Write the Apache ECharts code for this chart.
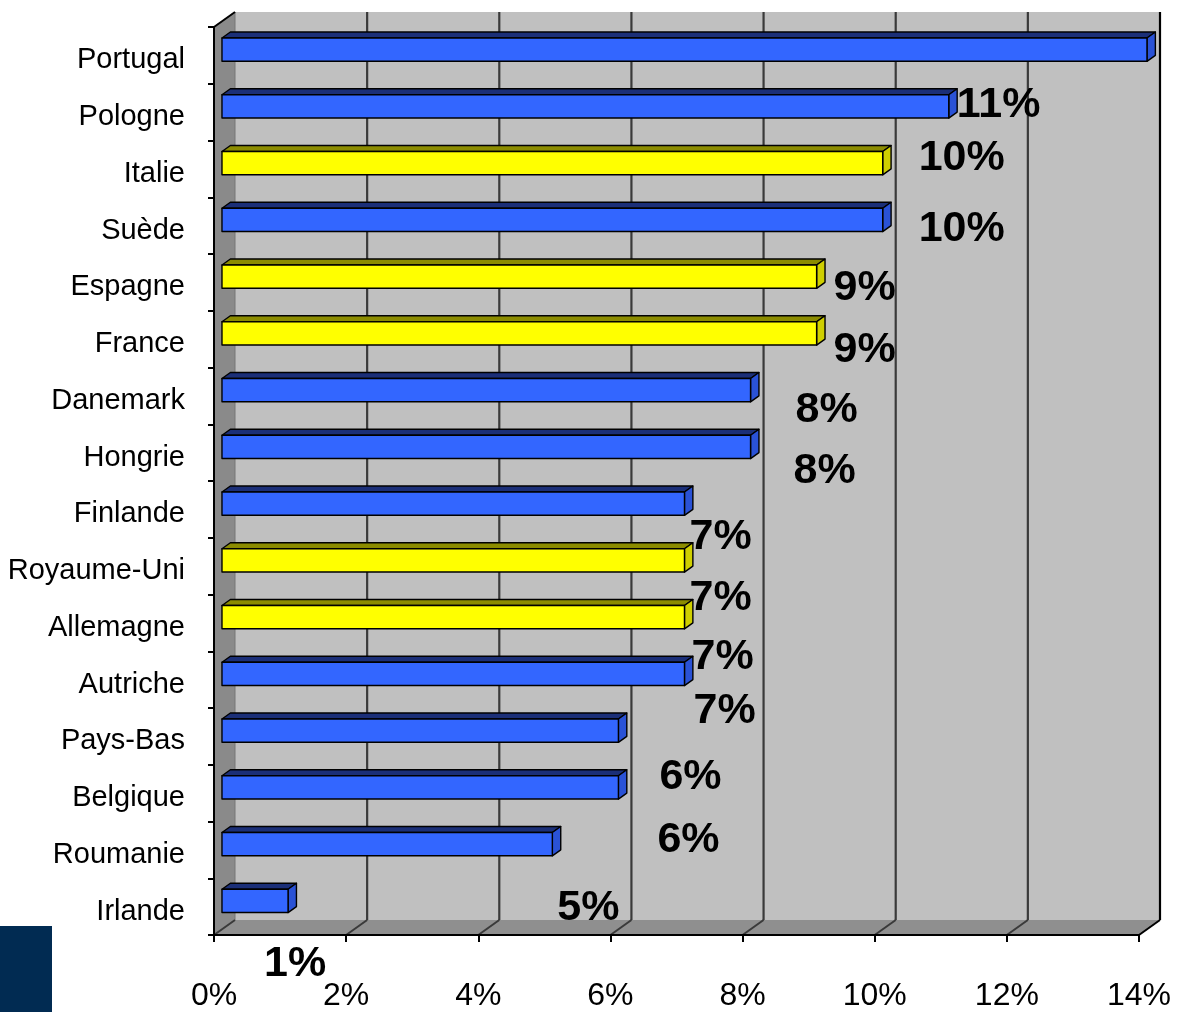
<!DOCTYPE html>
<html><head><meta charset="utf-8">
<script src="https://cdn.jsdelivr.net/npm/echarts/dist/echarts.min.js"></script>
<style>html,body{margin:0;padding:0;background:#fff}#main{width:1179px;height:1012px}</style>
</head><body><div id="main"></div>
<script>
// ---- data ----
const categories = ['Portugal','Pologne','Italie','Suède','Espagne','France','Danemark','Hongrie','Finlande','Royaume-Uni','Allemagne','Autriche','Pays-Bas','Belgique','Roumanie','Irlande'];
const values = [14, 11, 10, 10, 9, 9, 8, 8, 7, 7, 7, 7, 6, 6, 5, 1];
const highlighted = ['Italie','Espagne','France','Royaume-Uni','Allemagne'];
const xTicks = [0, 2, 4, 6, 8, 10, 12, 14];

// ---- style (label nudges [dx, dy] in px, as placed in the original picture) ----
const labelNudge = [null,[8,-7],[36,-11],[36,4],[17,6],[17,11],[45,14],[43,19],[5,28],[5,32],[7,34],[9,32],[41,41],[39,47],[5,58],[-24,58]];
const DX = 21, DY = -15;          // 3D depth vector
const F = 0.38, G = 0.4;           // bar front offset & depth (fraction of depth)
const FONT = '"Liberation Sans", Arial, Helvetica, sans-serif';
const COLORS = {
  blue:   {front:'#3366ff', top:'#1b2f78', side:'#2a52d6'},
  yellow: {front:'#ffff00', top:'#8c8c00', side:'#cfcf00'}
};

const chart = echarts.init(document.getElementById('main'), null, {renderer:'canvas'});

function renderWalls(params, api) {
  const cs = params.coordSys;
  const x0 = cs.x, x1 = cs.x + cs.width, y0 = cs.y, y1 = cs.y + cs.height;
  const ch = [];
  ch.push({type:'rect', shape:{x:x0+DX, y:y0+DY, width:x1-x0, height:y1-y0}, style:{fill:'#c0c0c0'}});
  ch.push({type:'polygon', shape:{points:[[x0,y0],[x0+DX,y0+DY],[x0+DX,y1+DY],[x0,y1]]}, style:{fill:'#8a8a8a'}});
  ch.push({type:'polygon', shape:{points:[[x0,y1],[x0+DX,y1+DY],[x1+DX,y1+DY],[x1,y1]]}, style:{fill:'#8f8f8f'}});
  xTicks.forEach(function (t) {
    const px = api.coord([t, 0])[0];
    const last = t === xTicks[xTicks.length-1];
    if (t !== xTicks[0]) {
      ch.push({type:'line', shape:{x1:px+DX, y1:y0+DY, x2:px+DX, y2:y1+DY}, style:{stroke: last ? '#000' : '#3a3a3a', lineWidth:2.2}});
    } else {
      ch.push({type:'line', shape:{x1:px+DX, y1:y0+DY, x2:px+DX, y2:y1+DY}, style:{stroke:'#777', lineWidth:1}});
    }
    ch.push({type:'line', shape:{x1:px, y1:y1, x2:px+DX, y2:y1+DY}, style:{stroke: last ? '#000' : '#3a3a3a', lineWidth:2}});
  });
  ch.push({type:'line', shape:{x1:x0, y1:y0, x2:x0+DX, y2:y0+DY}, style:{stroke:'#000', lineWidth:2}});
  return {type:'group', children:ch};
}

function renderBar(params, api) {
  const v = api.value(0), i = api.value(1);
  const p0 = api.coord([0, i]), p1 = api.coord([v, i]);
  const band = api.size([0, 1])[1];
  const h = band * 0.41;
  const fx = DX * F, fy = DY * F, gx = DX * G, gy = DY * G;
  const xa = p0[0] + fx, xb = p1[0] + fx, yc = p0[1] + fy;
  const yt = yc - h / 2, yb = yc + h / 2;
  const c = highlighted.indexOf(categories[i]) >= 0 ? COLORS.yellow : COLORS.blue;
  const st = {stroke:'#000', lineWidth:1.4, lineJoin:'round'};
  return {type:'group', children:[
    {type:'polygon', shape:{points:[[xa,yt],[xa+gx,yt+gy],[xb+gx,yt+gy],[xb,yt]]}, style:Object.assign({fill:c.top}, st)},
    {type:'polygon', shape:{points:[[xb,yt],[xb+gx,yt+gy],[xb+gx,yb+gy],[xb,yb]]}, style:Object.assign({fill:c.side}, st)},
    {type:'rect', shape:{x:xa, y:yt, width:xb-xa, height:h}, style:Object.assign({fill:c.front}, st)}
  ]};
}

function renderLabel(params, api) {
  const v = api.value(0), i = api.value(1);
  const nudge = labelNudge[i];
  if (!nudge) return null;
  const p = api.coord([v, i]);
  return {type:'text', x: p[0] + DX * F + nudge[0], y: p[1] + nudge[1],
    style:{text: v + '%', fill:'#000', fontSize:43, fontWeight:'bold', fontFamily:FONT,
      align:'left', verticalAlign:'middle', textAlign:'left', textVerticalAlign:'middle'}};
}

const barData = values.map(function (v, i) { return [v, i]; });

chart.setOption({
  animation:false,
  backgroundColor:'#ffffff',
  grid:{left:214, right:40, top:27, bottom:77, containLabel:false},
  xAxis:{type:'value', min:0, max:14, interval:2, z:5,
    axisLine:{show:true, lineStyle:{color:'#000', width:2}},
    axisTick:{show:true, length:7, lineStyle:{color:'#000', width:2}},
    splitLine:{show:false},
    axisLabel:{formatter:'{value}%', color:'#000', fontSize:32, fontFamily:FONT, margin:45}},
  yAxis:{type:'category', inverse:true, data:categories, z:5,
    axisLine:{show:true, lineStyle:{color:'#000', width:2}},
    axisTick:{show:true, length:6, lineStyle:{color:'#000', width:2}},
    splitLine:{show:false},
    axisLabel:{color:'#000', fontSize:29, fontFamily:FONT, margin:29,
      formatter:function (v) { return '{c|' + v + '}'; },
      rich:{c:{color:'#000', fontSize:29, fontFamily:FONT, padding:[10,0,0,0]}}}},
  graphic:[{type:'rect', x:0, y:926, shape:{width:52, height:86}, style:{fill:'#012b52'}, z:100}],
  series:[
    {type:'custom', name:'walls', z:1, clip:false, silent:true, renderItem:renderWalls, data:[[0,0]], encode:{x:0, y:1}},
    {type:'custom', name:'bars', z:3, clip:false, renderItem:renderBar, data:barData, encode:{x:0, y:1}},
    {type:'custom', name:'labels', z:10, clip:false, silent:true, renderItem:renderLabel, data:barData, encode:{x:0, y:1}}
  ]
});
</script></body></html>
